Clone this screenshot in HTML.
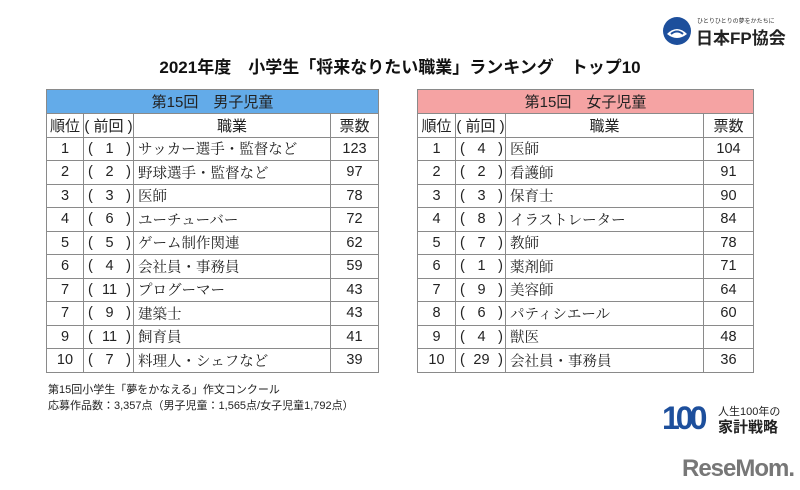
<!DOCTYPE html>
<html><head><meta charset="utf-8">
<style>
body{margin:0;width:800px;height:490px;background:#fff;overflow:hidden;font-family:"Liberation Sans","Noto Sans CJK JP",sans-serif;position:relative}
.abs{position:absolute}
.tbl{position:absolute;border-collapse:collapse;table-layout:fixed}
.tbl td{border:1px solid #8a8a8a;height:22.5px;padding:0;font-size:14.5px;color:#222;white-space:nowrap;overflow:hidden}
.c{text-align:center}.r{text-align:right}
.job{font-family:"Noto Serif CJK SC","Liberation Serif",serif;color:#555;padding-left:4px!important}
</style></head><body>
<div class="abs" style="left:662px;top:14px;width:125px;height:34px">
<svg width="30" height="30" style="position:absolute;left:0;top:2px"><circle cx="15" cy="15" r="14" fill="#1d4f9c"/><path d="M5 18 Q15 8 25 18 Q15 26 5 18Z" fill="#fff"/><path d="M9 18 Q15 13 21 18" stroke="#1d4f9c" stroke-width="2" fill="none"/></svg>
<div class="abs" style="left:35px;top:2px;font-size:6px;color:#333">ひとりひとりの夢をかたちに</div>
<div class="abs" style="left:34px;top:10px;font-size:17px;font-weight:bold;color:#222">日本FP協会</div>
</div>
<div class="abs" style="left:0;width:800px;top:53px;text-align:center;font-size:17px;font-weight:bold;color:#111">2021年度　小学生「将来なりたい職業」ランキング　トップ10</div>

<table class="tbl" id="tboy" style="left:46px;top:89px;width:332px"></table>
<table class="tbl" id="tgirl" style="left:417px;top:89px;width:336px"></table>

<div class="abs" style="left:48px;top:381px;font-size:11px;color:#222">第15回小学生「夢をかなえる」作文コンクール</div>
<div class="abs" style="left:48px;top:397px;font-size:11px;color:#222">応募作品数：3,357点（男子児童：1,565点/女子児童1,792点）</div>

<div class="abs" style="left:662px;top:402px;width:130px;height:34px">
<div class="abs" style="left:0;top:0;font-size:32px;font-weight:bold;color:#1d4f9c;letter-spacing:-4px;line-height:32px">100</div>
<div class="abs" style="left:56px;top:1px;font-size:11px;color:#222">人生100年の</div>
<div class="abs" style="left:56px;top:14px;font-size:15px;font-weight:bold;color:#222">家計戦略</div>
</div>
<div class="abs" style="left:682px;top:455px;font-size:24px;font-weight:bold;color:#777;letter-spacing:-1px">ReseMom.</div>

<script>
const boyRanks=[1,2,3,4,5,6,7,7,9,10];
const boyPrev=[1,2,3,6,5,4,11,9,11,7];
const boyJobs=["サッカー選手・監督など","野球選手・監督など","医師","ユーチューバー","ゲーム制作関連","会社員・事務員","プログーマー","建築士","飼育員","料理人・シェフなど"];
const boyVotes=[123,97,78,72,62,59,43,43,41,39];
const girlRanks=[1,2,3,4,5,6,7,8,9,10];
const girlPrev=[4,2,3,8,7,1,9,6,4,29];
const girlJobs=["医師","看護師","保育士","イラストレーター","教師","薬剤師","美容師","パティシエール","獣医","会社員・事務員"];
const girlVotes=[104,91,90,84,78,71,64,60,48,36];
function build(id,title,color,widths,ranks,prev,jobs,votes,prefix){
  const t=document.getElementById(id);
  const cg=document.createElement('colgroup');
  widths.forEach(w=>{const c=document.createElement('col');c.style.width=w+'px';cg.appendChild(c);});
  t.appendChild(cg);
  let tr=t.insertRow();
  
  
  let td=tr.insertCell();td.colSpan=4;td.className='c';td.textContent=title;td.style.background=color;td.style.height='23px';td.style.fontSize='15px';
  
  
  tr=t.insertRow();
  
  
  ["順位","(前回)","職業","票数"].forEach((h,i)=>{const c=tr.insertCell();c.className='c';c.style.fontSize='15px';c.textContent=i==1?'( 前回 )':h;
    
    });
  for(let i=0;i<ranks.length;i++){
    tr=t.insertRow();
    
    
    let a=tr.insertCell();a.className='c';a.textContent=ranks[i];
    
    
    let b=tr.insertCell();b.className='c';b.innerHTML='<div style="display:flex;justify-content:space-between;padding:0 2px 0 4px"><span>(</span><span>'+prev[i]+'</span><span>)</span></div>';
    
    
    let c=tr.insertCell();c.className='job';c.textContent=jobs[i];
    
    
    let d=tr.insertCell();d.className='c';d.textContent=votes[i];
    
    
  }
}
build('tboy','第15回　男子児童','#63abe9',[37,50,197,48],boyRanks,boyPrev,boyJobs,boyVotes,'boys');
build('tgirl','第15回　女子児童','#f5a3a3',[38,50,198,50],girlRanks,girlPrev,girlJobs,girlVotes,'girls');
</script>
</body></html>
